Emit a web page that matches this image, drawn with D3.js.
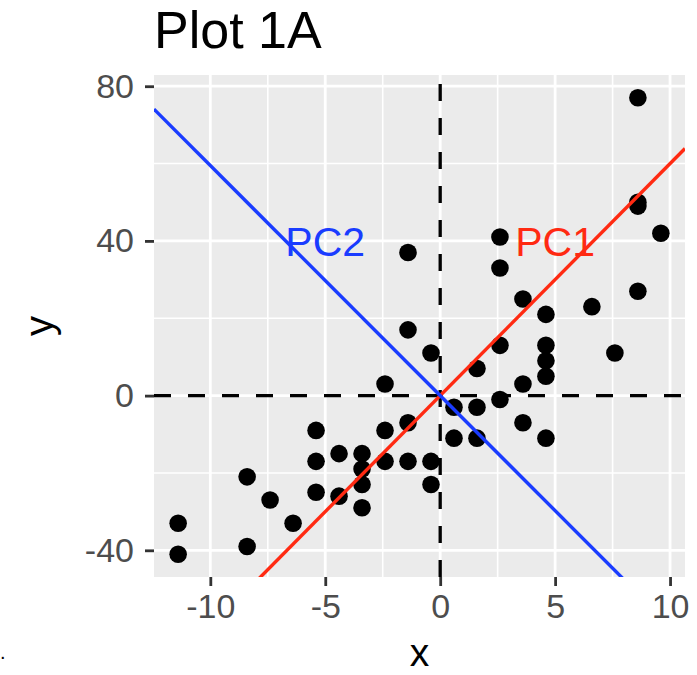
<!DOCTYPE html>
<html>
<head>
<meta charset="utf-8">
<script src="https://cdn.jsdelivr.net/npm/d3@7"></script>
<style>
  html, body { margin: 0; padding: 0; background: #ffffff; }
  svg { display: block; font-family: "Liberation Sans", Arial, Helvetica, sans-serif; }
</style>
</head>
<body>
<svg id="chart" width="697" height="675"></svg>
<script>
// ---- data ----
const xValues = [8.6, 8.6, 8.6, 9.6, 2.6, -1.4, 2.6, 8.6, 3.6, 6.6, 4.6, -1.4, -0.4, 2.6, 4.6, 4.6, 4.6, 7.6, 1.6, 3.6, -2.4, 2.6, 0.6, 1.6, 3.6, -1.4, 0.6, 1.6, 4.6, -5.4, -2.4, -4.4, -3.4, -5.4, -3.4, -2.4, -1.4, -0.4, -3.4, -0.4, -5.4, -4.4, -3.4, -8.4, -7.4, -6.4, -11.4, -11.4, -8.4];
const yValues = [77, 50, 49, 42, 41, 37, 33, 27, 25, 23, 21, 17, 11, 13, 13, 9, 5, 11, 7, 3, 3, -1, -3, -3, -7, -7, -11, -11, -11, -9, -9, -15, -15, -17, -19, -17, -17, -17, -23, -23, -25, -26, -29, -21, -27, -33, -33, -41, -39];
const xTicks = [-10, -5, 0, 5, 10];
const yTicks = [-40, 0, 40, 80];
const xMinor = [-12.5, -7.5, -2.5, 2.5, 7.5];
const yMinor = [-20, 20, 60];
const pcNames = ["PC1", "PC2"];
const pcSlopes = [6.0, -5.95];
const pcLabelX = [5, -5];
const pcLabelY = [40, 40];
const pcColors = ["#ff2a12", "#1a3cff"];
const titleText = "Plot 1A";

// ---- layout ----
const svg = d3.select("#chart");
const panel = { left: 154, right: 685, top: 75, bottom: 577 };

function expand(ext, f) { const s = ext[1] - ext[0]; return [ext[0] - s * f, ext[1] + s * f]; }
const x = d3.scaleLinear().domain(expand(d3.extent(xValues), 0.05)).range([panel.left, panel.right]);
const y = d3.scaleLinear().domain(expand(d3.extent(yValues), 0.05)).range([panel.bottom, panel.top]);

// panel background
svg.append("rect").attr("x", panel.left).attr("y", panel.top)
  .attr("width", panel.right - panel.left).attr("height", panel.bottom - panel.top)
  .attr("fill", "#EBEBEB");

svg.append("clipPath").attr("id", "clip").append("rect")
  .attr("x", panel.left).attr("y", panel.top)
  .attr("width", panel.right - panel.left).attr("height", panel.bottom - panel.top);

const g = svg.append("g").attr("clip-path", "url(#clip)");

// grid
g.selectAll(".vminor").data(xMinor).join("line")
  .attr("x1", d => x(d)).attr("x2", d => x(d)).attr("y1", panel.top).attr("y2", panel.bottom)
  .attr("stroke", "#fff").attr("stroke-width", 1.6);
g.selectAll(".hminor").data(yMinor).join("line")
  .attr("y1", d => y(d)).attr("y2", d => y(d)).attr("x1", panel.left).attr("x2", panel.right)
  .attr("stroke", "#fff").attr("stroke-width", 1.6);
g.selectAll(".vmajor").data(xTicks).join("line")
  .attr("x1", d => x(d)).attr("x2", d => x(d)).attr("y1", panel.top).attr("y2", panel.bottom)
  .attr("stroke", "#fff").attr("stroke-width", 2.8);
g.selectAll(".hmajor").data(yTicks).join("line")
  .attr("y1", d => y(d)).attr("y2", d => y(d)).attr("x1", panel.left).attr("x2", panel.right)
  .attr("stroke", "#fff").attr("stroke-width", 2.8);

// dashed zero lines
g.append("line").attr("x1", panel.left).attr("x2", panel.right).attr("y1", y(0)).attr("y2", y(0))
  .attr("stroke", "#000").attr("stroke-width", 3.3).attr("stroke-dasharray", "17,17");
g.append("line").attr("x1", x(0)).attr("x2", x(0)).attr("y1", panel.bottom).attr("y2", panel.top)
  .attr("stroke", "#000").attr("stroke-width", 3.3).attr("stroke-dasharray", "17,17");

// points
const pts = xValues.map((v, i) => ({ x: v, y: yValues[i] }));
g.selectAll(".pt").data(pts).join("circle")
  .attr("cx", d => x(d.x)).attr("cy", d => y(d.y)).attr("r", 8.8).attr("fill", "#000");

// PC lines
const xd = x.domain();
pcSlopes.forEach((s, i) => {
  g.append("line")
    .attr("x1", x(xd[0])).attr("y1", y(s * xd[0]))
    .attr("x2", x(xd[1])).attr("y2", y(s * xd[1]))
    .attr("stroke", pcColors[i]).attr("stroke-width", 3.4);
});

// PC labels
pcNames.forEach((n, i) => {
  svg.append("text").attr("x", x(pcLabelX[i])).attr("y", y(pcLabelY[i]))
    .attr("dy", "0.36em").attr("text-anchor", "middle")
    .attr("font-size", 41).attr("fill", pcColors[i]).text(n);
});

// axes
const xAxis = svg.append("g").attr("transform", `translate(0,${panel.bottom})`)
  .call(d3.axisBottom(x).tickValues(xTicks).tickSize(9).tickPadding(8).tickFormat(d => d3.format("d")(d).replace("\u2212", "-")));
const yAxis = svg.append("g").attr("transform", `translate(${panel.left},0)`)
  .call(d3.axisLeft(y).tickValues(yTicks).tickSize(9).tickPadding(11).tickFormat(d => d3.format("d")(d).replace("\u2212", "-")));
[xAxis, yAxis].forEach(a => {
  a.select(".domain").remove();
  a.selectAll(".tick line").attr("stroke", "#333").attr("stroke-width", 2.8);
  a.selectAll(".tick text").attr("fill", "#4D4D4D").attr("font-size", 34)
    .attr("font-family", "Liberation Sans, Arial, Helvetica, sans-serif");
});

// axis titles
svg.append("text").attr("x", (panel.left + panel.right) / 2).attr("y", 666)
  .attr("text-anchor", "middle").attr("font-size", 39).attr("fill", "#000").text("x");
svg.append("text").attr("transform", `translate(53,${(panel.top + panel.bottom) / 2}) rotate(-90)`)
  .attr("text-anchor", "middle").attr("font-size", 40).attr("fill", "#000").text("y");

// stray mark at lower-left of the reference
svg.append("text").attr("x", 0).attr("y", 659).attr("font-size", 20).attr("fill", "#000").text(".");

// title
svg.append("text").attr("x", panel.left).attr("y", 48)
  .attr("font-size", 52).attr("fill", "#000").text(titleText);
</script>
</body>
</html>
